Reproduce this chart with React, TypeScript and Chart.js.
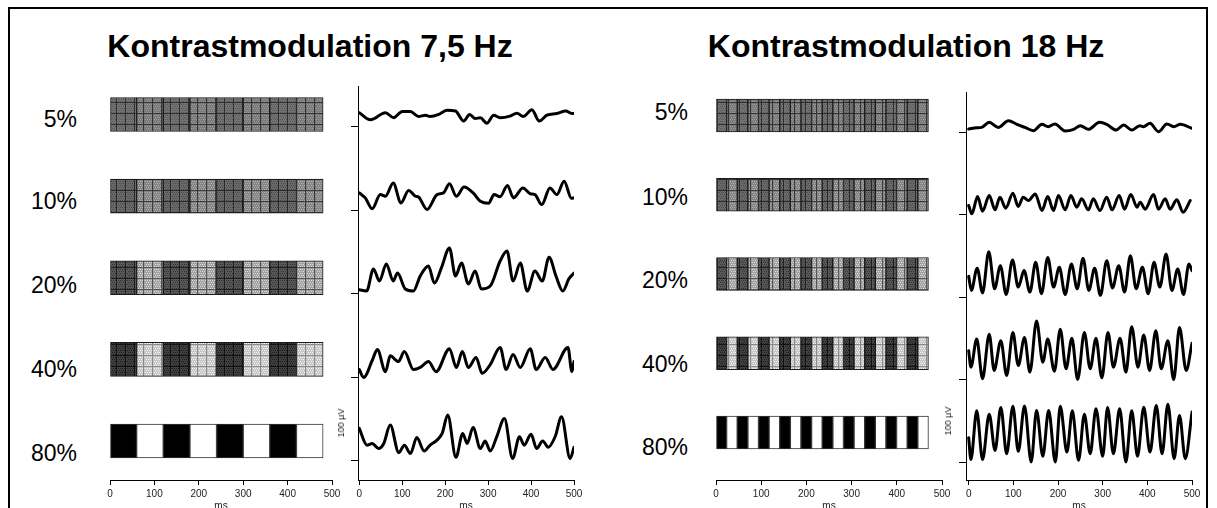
import React, { useEffect, useRef } from 'react';
import { Chart, registerables } from 'chart.js';

Chart.register(...registerables);

const FONT = '"Liberation Sans", Arial, Helvetica, sans-serif';

// ---------------- data ----------------
const contrastLabels = ['5%', '10%', '20%', '40%', '80%'];
const panelTitles = ['Kontrastmodulation 7,5 Hz', 'Kontrastmodulation 18 Hz'];
const timeTicks = [0, 100, 200, 300, 400, 500];
const traceOffsets = [400, 300, 200, 100, 0]; // µV baseline of each contrast row
const scaleBarLabel = '100 µV';
const axisTitle = 'ms';

// stimulus segment edges (ms)
const leftSegmentEdges = [0, 60, 120, 180, 240, 300, 360, 420, 480];
const rightSegmentEdges = [0, 23.5, 47, 70.5, 94, 117.5, 141, 164.5, 188, 211.5, 235, 258.5, 282, 305.5, 329, 352.5, 376, 399.5, 423, 446.5, 470];

// 7,5 Hz responses (ms, µV above row baseline)
const left5T = [0, 26, 61, 80, 100, 119, 138, 154, 165, 185, 204, 224, 243, 257, 270, 282, 297, 313, 328, 351, 367, 382, 402, 419, 437, 460, 481, 495, 500];
const left5V = [17, 8.5, 17, 11, 18.5, 18.5, 12.5, 14, 12.5, 15, 20, 19, 7, 15, 10, 11, 4.5, 14, 11, 13, 16.5, 12.5, 20.5, 7, 14, 16, 19, 16, 16];
const left10T = [0, 14, 30, 49, 61, 79, 97, 115, 131, 138, 158, 181, 196, 210, 226, 244, 265, 282, 301, 314, 328, 345, 359, 381, 398, 409, 425, 444, 460, 477, 494, 500];
const left10V = [21, 15, 2, 19, 17, 33, 9, 24, 17, 16, 1, 19, 21, 32, 17, 28, 21, 11, 8.5, 19, 16.5, 30, 15, 27, 20, 19, 7, 27, 19, 35, 14.5, 15];
const left20T = [0, 17, 33, 47, 63, 79, 89, 107, 126, 142, 161, 175, 191, 210, 224, 238, 254, 270, 284, 305, 328, 344, 358, 375, 391, 409, 426, 442, 458, 474, 488, 500];
const left20V = [5, 3.5, 30, 15.5, 36, 15.5, 25, 6, 3.5, 21.5, 33.5, 13, 31, 55, 21.5, 37, 12, 27.5, 6, 9.5, 39.5, 51.5, 15.5, 37, 3.5, 27.5, 15.5, 44, 21.5, 3.5, 18, 25];
const left40T = [0, 10, 31, 42, 61, 72, 91, 105, 126, 142, 161, 179, 210, 226, 240, 254, 272, 286, 305, 328, 342, 358, 375, 398, 412, 433, 451, 486, 495, 500];
const left40V = [9.5, 0, 21.5, 33.5, 7, 26, 19, 31, 9.5, 12, 19, 7, 34.5, 12, 31, 12, 24, 5, 15.5, 36, 9.5, 27.5, 12, 34.5, 9.5, 24, 9.5, 36, 7, 19];
const left80T = [0, 18, 30, 45, 57, 72, 92, 105, 119, 134, 151, 165, 181, 193, 206, 225, 241, 251, 265, 282, 293, 305, 320, 338, 357, 373, 384, 400, 413, 427, 440, 456, 471, 491, 500];
const left80V = [39, 19, 21, 15, 21, 43, 10, 19, 9, 28, 12, 19, 25, 33, 55, 4.5, 33, 21, 40, 15, 24, 12, 29, 51, 3, 29, 19, 32, 15, 24, 16.5, 29, 53, 3, 16.5];

// 18 Hz responses (ms, µV above row baseline)
const right5T = [0, 18, 29, 46, 66, 89, 108, 126, 145, 164, 178, 193, 216, 235, 250, 268, 293, 309, 330, 347, 365, 383, 391, 406, 425, 444, 459, 474, 500];
const right5V = [3.6, 5.2, 5.6, 11.7, 5.6, 13.7, 9.3, 5.6, 1.6, 9.3, 6.5, 9.7, 1.2, 3.2, 7.7, 3.2, 11.7, 9.3, 2.4, 8.5, 2.4, 7.7, 6.5, 10.5, 0.4, 9.7, 6.5, 9.3, 4.4];
const right10T = [0, 7, 20, 31, 46, 59, 70, 83, 99, 111, 122, 134, 149, 164, 177, 190, 201, 216, 229, 242, 253, 268, 279, 294, 309, 321, 337, 349, 363, 377, 384, 395, 414, 425, 440, 451, 466, 480, 496];
const right10V = [10.9, 0.8, 21.8, 4, 23, 5.7, 21, 7.7, 25.9, 9.7, 21, 17, 25, 4.8, 21.8, 4.8, 23, 5.7, 23, 8.9, 19, 5.7, 19, 4.8, 21, 5.7, 23, 6.5, 24.2, 8.9, 14.9, 6.5, 24.2, 6.5, 19, 6.5, 17.8, 2.8, 17];
const right20T = [0, 6, 19, 31, 45, 58, 71, 84, 98, 111, 124, 137, 150, 163, 177, 190, 203, 216, 230, 243, 256, 269, 282, 295, 309, 322, 336, 349, 362, 375, 389, 402, 415, 428, 442, 455, 468, 481, 493, 500];
const right20V = [25, 8, 35, 5, 55, 10, 38, 3, 45, 12, 32, 6, 42, 4, 48, 12, 36, 3, 40, 10, 47, 8, 35, 2, 44, 11, 38, 6, 50, 10, 36, 4, 42, 12, 52, 8, 34, 3, 40, 32];
const right40T = [0, 5, 18, 31, 46, 57, 72, 85, 99, 111, 125, 137, 152, 166, 177, 192, 205, 218, 231, 244, 259, 272, 285, 298, 312, 324, 339, 352, 365, 379, 392, 405, 419, 431, 446, 459, 472, 487, 500];
const right40V = [35, 15, 49, 1, 55, 11, 47, 5, 57, 17, 51, 9, 71, 21, 49, 10, 61, 13, 50, 0, 57, 13, 50, 2, 57, 15, 50, 9, 64, 15, 54, 11, 59, 13, 47, 0, 63, 11, 44];
const right80T = [0, 5, 18, 31, 46, 59, 72, 85, 99, 111, 125, 140, 152, 166, 179, 194, 205, 220, 232, 246, 259, 272, 285, 300, 311, 324, 338, 352, 365, 378, 392, 406, 420, 433, 446, 460, 472, 485, 500];
const right80V = [29.5, 3, 62, 3, 58, 14, 66, 10, 67.5, 13, 68, 0, 62.5, 7, 62.5, 0, 67.5, 12, 62, 2, 58, 10, 64.5, 7, 66, 10, 64.5, 0, 62, 7, 66.5, 12, 68.5, 10, 70, 4, 56.5, 4, 60.5];

const leftTraces = [
  [left5T, left5V], [left10T, left10V], [left20T, left20V], [left40T, left40V], [left80T, left80V],
];
const rightTraces = [
  [right5T, right5V], [right10T, right10V], [right20T, right20V], [right40T, right40V], [right80T, right80V],
];

// ---------------- styling / layout ----------------
const stimShades = [
  { dark: '#727272', darkDot: '#585858', light: '#7a7a7a', lightDot: '#9c9c9c', line: '#2e2e2e', lightLine: '#333333' },
  { dark: '#6a6a6a', darkDot: '#4a4a4a', light: '#848484', lightDot: '#b2b2b2', line: '#282828', lightLine: '#3a3a3a' },
  { dark: '#595959', darkDot: '#333333', light: '#a2a2a2', lightDot: '#dadada', line: '#1e1e1e', lightLine: '#555555' },
  { dark: '#404040', darkDot: '#1e1e1e', light: '#c6c6c6', lightDot: '#f4f4f4', line: '#111111', lightLine: '#8a8a8a' },
  { dark: '#000000', light: '#ffffff', solid: true },
];

const leftLabelBaselines = [127, 209, 293, 377, 461];
const rightLabelBaselines = [120, 205, 288, 372, 455];

function makePattern(w: number, h: number, base: string, dot: string, line: string): any {
  const c = document.createElement('canvas');
  c.width = w;
  c.height = h;
  const g = c.getContext('2d')!;
  g.fillStyle = base;
  g.fillRect(0, 0, w, h);
  g.fillStyle = dot;
  for (let y = 1; y < h - 1; y += 2) {
    for (let x = y % 4 === 1 ? 1 : 2; x < w - 1; x += 2) g.fillRect(x, y, 1, 1);
  }
  g.fillStyle = line;
  g.fillRect(w - 1, 0, 1, h);
  g.fillRect(0, h - 1, w, 1);
  return g.createPattern(c, 'repeat') || base;
}

function timeAxis(min: number) {
  return {
    type: 'linear',
    position: 'bottom',
    min,
    max: 500,
    offset: false,
    afterBuildTicks: (s: any) => {
      s.ticks = timeTicks.map((v) => ({ value: v }));
    },
    afterFit: (s: any) => {
      s.height = 32;
    },
    grid: { drawOnChartArea: false, drawTicks: true, tickLength: 5, color: '#000', lineWidth: 1, offset: false },
    border: { display: true, color: '#000', width: 1 },
    ticks: { font: { size: 10, family: FONT }, color: '#222', padding: 3, maxRotation: 0, autoSkip: false },
    title: { display: true, text: axisTitle, font: { size: 10, family: FONT }, color: '#222', padding: 0 },
  };
}

function buildStim(edges: number[], yMin: number, yMax: number, barThickness: number, tileW: number) {
  const fills = stimShades.map((s: any) =>
    s.solid
      ? [s.dark, s.light]
      : [makePattern(tileW, 11, s.dark, s.darkDot, s.line), makePattern(tileW, 11, s.light, s.lightDot, s.lightLine)]
  );
  const data: any[] = [];
  const bg: any[] = [];
  const bc: string[] = [];
  contrastLabels.forEach((_, r) => {
    for (let k = 0; k < edges.length - 1; k++) {
      data.push({ x: [edges[k], edges[k + 1]], y: r + 1 });
      bg.push(fills[r][k % 2]);
      bc.push(r === 4 ? '#333' : '#1a1a1a');
    }
  });
  return {
    type: 'bar',
    data: {
      datasets: [
        { data, backgroundColor: bg, borderColor: bc, borderWidth: 1, borderSkipped: false, barThickness },
      ],
    },
    options: {
      indexAxis: 'y',
      animation: false,
      responsive: false,
      devicePixelRatio: 1,
      layout: { padding: { left: 20, right: 20, top: 0, bottom: 0 } },
      plugins: { legend: { display: false }, tooltip: { enabled: false } },
      events: [],
      scales: {
        x: timeAxis(0),
        y: {
          type: 'linear',
          display: false,
          reverse: true,
          min: yMin,
          max: yMax,
          offset: false,
          grid: { offset: false },
        },
      },
    },
  };
}

function buildEeg(traces: number[][][], xMin: number, yMin: number, yMax: number) {
  return {
    type: 'line',
    data: {
      datasets: traces.map(([ts, vs], i) => ({
        data: ts.map((t, k) => ({ x: t, y: traceOffsets[i] + vs[k] })),
        borderColor: '#000',
        borderWidth: 3,
        pointRadius: 0,
        cubicInterpolationMode: 'monotone',
        borderJoinStyle: 'round',
        borderCapStyle: 'round',
        fill: false,
      })),
    },
    options: {
      animation: false,
      responsive: false,
      devicePixelRatio: 1,
      layout: { padding: { left: 10, right: 20, top: 0, bottom: 0 } },
      plugins: { legend: { display: false }, tooltip: { enabled: false } },
      events: [],
      scales: {
        x: timeAxis(xMin),
        y: {
          type: 'linear',
          min: yMin,
          max: yMax,
          afterBuildTicks: (s: any) => {
            s.ticks = traceOffsets.map((v) => ({ value: v }));
          },
          afterFit: (s: any) => {
            s.width = 10;
          },
          ticks: { display: false },
          grid: { drawOnChartArea: false, drawTicks: true, tickLength: 7, color: '#000', lineWidth: 1 },
          border: { display: true, color: '#000', width: 1 },
        },
      },
    },
  };
}

function ChartCanvas({ left, top, width, height, build }: any) {
  const ref = useRef<HTMLCanvasElement>(null);
  useEffect(() => {
    const chart = new Chart(ref.current as HTMLCanvasElement, build() as any);
    return () => chart.destroy();
  }, []);
  return (
    <canvas
      ref={ref}
      width={width}
      height={height}
      style={{ position: 'absolute', left, top, width, height, display: 'block' }}
    />
  );
}

const pctStyle: any = {
  position: 'absolute',
  width: 100,
  textAlign: 'right',
  fontSize: 23,
  lineHeight: '23px',
  fontFamily: FONT,
  color: '#000',
  whiteSpace: 'nowrap',
};

const titleStyle: any = {
  position: 'absolute',
  top: 30,
  fontSize: 32,
  lineHeight: '32px',
  fontWeight: 'bold',
  fontFamily: FONT,
  color: '#000',
  whiteSpace: 'nowrap',
  transform: 'translateX(-50%)',
};

const uvStyle: any = {
  position: 'absolute',
  fontSize: 9,
  lineHeight: '10px',
  fontFamily: FONT,
  color: '#222',
  whiteSpace: 'nowrap',
  transform: 'translate(-50%, -50%) rotate(-90deg)',
};

export default function App() {
  return (
    <div
      style={{
        position: 'fixed',
        left: 0,
        top: 0,
        width: 1217,
        height: 508,
        overflow: 'hidden',
        background: '#fff',
        fontFamily: FONT,
      }}
    >
      <div
        style={{
          position: 'absolute',
          left: 8,
          top: 7,
          width: 1200,
          height: 600,
          border: '2px solid #000',
          boxSizing: 'border-box',
        }}
      />
      <div style={{ ...titleStyle, left: 310 }}>{panelTitles[0]}</div>
      <div style={{ ...titleStyle, left: 906 }}>{panelTitles[1]}</div>

      {contrastLabels.map((l, i) => (
        <div key={'l' + l} style={{ ...pctStyle, left: 77 - 100, top: leftLabelBaselines[i] - 19.5 }}>
          {l}
        </div>
      ))}
      {contrastLabels.map((l, i) => (
        <div key={'r' + l} style={{ ...pctStyle, left: 688 - 100, top: rightLabelBaselines[i] - 19.5 }}>
          {l}
        </div>
      ))}

      <ChartCanvas left={90} top={70} width={262} height={442} build={() => buildStim(leftSegmentEdges, 0.4547, 5.478, 34, 9)} />
      <ChartCanvas left={338} top={86} width={256} height={426} build={() => buildEeg(leftTraces, -3, -22.75, 449)} />
      <ChartCanvas left={696} top={70} width={266} height={442} build={() => buildStim(rightSegmentEdges, 0.426, 5.599, 33, 11)} />
      <ChartCanvas left={946} top={92} width={266} height={420} build={() => buildEeg(rightTraces, -6, -21.8, 448.5)} />

      <div style={{ ...uvStyle, left: 341, top: 423 }}>{scaleBarLabel}</div>
      <div style={{ ...uvStyle, left: 948, top: 421 }}>{scaleBarLabel}</div>
    </div>
  );
}
